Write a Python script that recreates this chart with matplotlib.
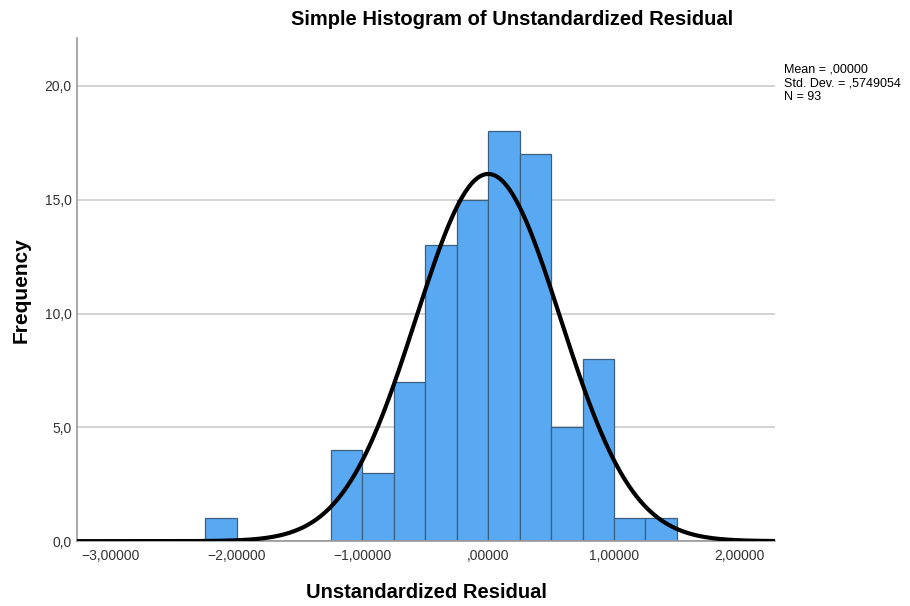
import numpy as np
import matplotlib.pyplot as plt

plt.rcParams['font.family'] = ['Liberation Sans', 'DejaVu Sans']

# bin edges (width 0.25) and counts per bin
bin_left = [-2.25, -2.00, -1.75, -1.50, -1.25, -1.00, -0.75, -0.50, -0.25,
            0.00, 0.25, 0.50, 0.75, 1.00, 1.25]
counts = [1, 0, 0, 0, 4, 3, 7, 13, 15, 18, 17, 5, 8, 1, 1]
bin_width = 0.25

mean = 0.0
std_dev = 0.5749054
n_obs = 93

x_ticks = [-3, -2, -1, 0, 1, 2]
x_tick_labels = ['\u22123,00000', '\u22122,00000', '\u22121,00000', ',00000', '1,00000', '2,00000']
y_ticks = [0, 5, 10, 15, 20]
y_tick_labels = ['0,0', '5,0', '10,0', '15,0', '20,0']

fig = plt.figure(figsize=(9.1, 6.06), dpi=100)
ax = fig.add_axes([0.0846, 0.107, 0.767, 0.83])

ax.bar(bin_left, counts, width=bin_width, align='edge',
       color='#58a9f2', edgecolor='#3d5f80', linewidth=0.9, zorder=2)

# normal curve scaled to the histogram
xs = np.linspace(-3.27, 2.28, 400)
pdf = np.exp(-0.5 * ((xs - mean) / std_dev) ** 2) / (std_dev * np.sqrt(2 * np.pi))
ax.plot(xs, pdf * n_obs * bin_width, color='black', linewidth=3, zorder=3,
        solid_capstyle='butt')

ax.set_xlim(-3.27, 2.28)
ax.set_ylim(0, 22.1)
ax.set_xticks(x_ticks)
ax.set_xticklabels(x_tick_labels)
ax.set_yticks(y_ticks)
ax.set_yticklabels(y_tick_labels)
ax.tick_params(axis='x', length=0, labelsize=10, colors='#333333', pad=6)
ax.tick_params(axis='y', length=0, labelsize=10, colors='#333333', pad=4)

ax.yaxis.grid(True, color='#cccccc', linewidth=1.2, zorder=0)
ax.set_axisbelow(True)
for side in ['top', 'right']:
    ax.spines[side].set_visible(False)
for side in ['left', 'bottom']:
    ax.spines[side].set_color('#999999')
    ax.spines[side].set_linewidth(1.2)

fig.text(0.563, 0.967, 'Simple Histogram of Unstandardized Residual',
         fontsize=14.5, fontweight='bold', ha='center', va='center')
ax.set_xlabel('Unstandardized Residual', fontsize=14.5, fontweight='bold', labelpad=14)
ax.set_ylabel('Frequency', fontsize=15, fontweight='bold', labelpad=10)

fig.text(0.861, 0.863, 'Mean = ,00000\nStd. Dev. = ,5749054\nN = 93',
         fontsize=9, va='center', ha='left', linespacing=1.2)

plt.savefig('out.png', dpi=100)
